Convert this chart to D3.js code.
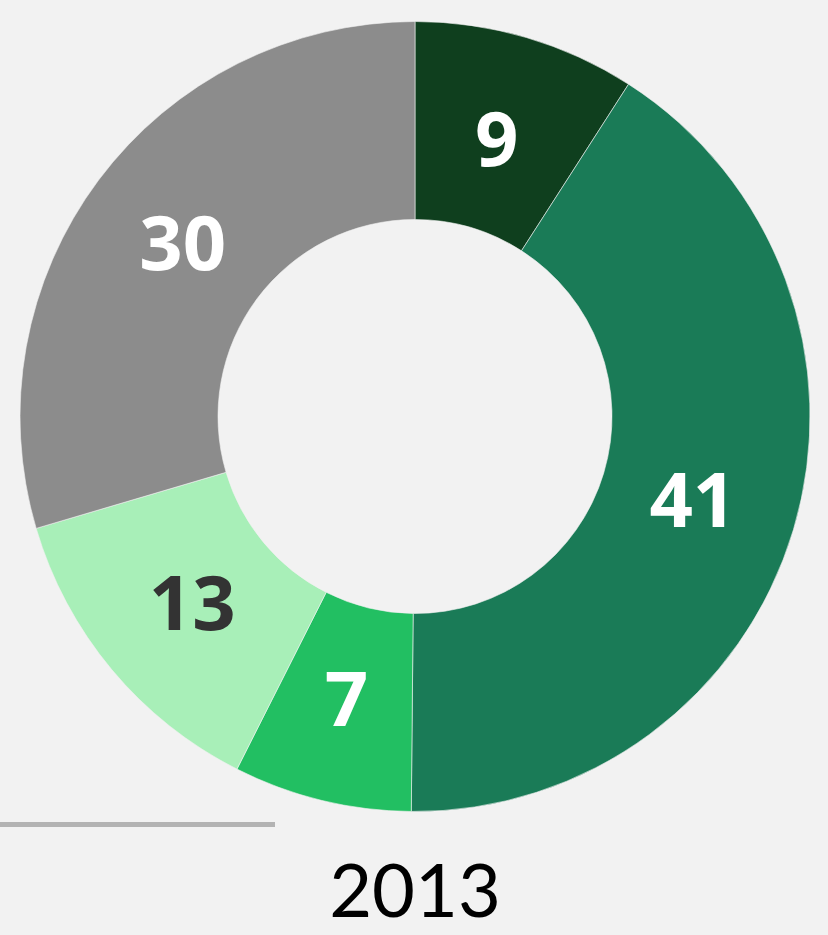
<!DOCTYPE html>
<html>
<head>
<meta charset="utf-8">
<script src="https://cdn.jsdelivr.net/npm/d3@7"></script>
<style>
  html, body { margin: 0; padding: 0; background: #f2f2f2; }
  svg { display: block; }
</style>
</head>
<body>
<div id="chart"></div>
<script>
// slice shares (%), clockwise from 12 o'clock
var values = [9.1, 41.1, 7.3, 13.0, 29.6];
var colors = ["#0f3f1e", "#1a7b57", "#22bf62", "#a8efb8", "#8c8c8c"];
var labelColors = ["#ffffff", "#ffffff", "#ffffff", "#333333", "#ffffff"];
var yearLabel = "2013";

var width = 828, height = 935;
var cx = 415, cy = 416.5;
var outerR = 395, innerR = 197;

var svg = d3.select("#chart")
  .append("svg")
  .attr("width", width)
  .attr("height", height);

svg.append("rect")
  .attr("width", width)
  .attr("height", height)
  .attr("fill", "#f2f2f2");

var pie = d3.pie().sort(null).value(d => d);
var arc = d3.arc().innerRadius(innerR).outerRadius(outerR);
// labels sit a little inside the mid radius
var labelArc = d3.arc().innerRadius(290).outerRadius(290);

var g = svg.append("g")
  .attr("transform", `translate(${cx}, ${cy})`);

var slices = g.selectAll("g.slice")
  .data(pie(values))
  .enter()
  .append("g")
  .attr("class", "slice");

slices.append("path")
  .attr("d", arc)
  .attr("fill", (d, i) => colors[i])
  .attr("stroke", "#f2f2f2")
  .attr("stroke-width", 0.6);

slices.append("text")
  .attr("transform", d => `translate(${labelArc.centroid(d)})`)
  .attr("text-anchor", "middle")
  .attr("dy", "0.36em")
  .attr("font-family", "'Noto Sans', sans-serif")
  .attr("font-weight", 700)
  .attr("font-size", 76)
  .attr("fill", (d, i) => labelColors[i])
  .text(d => Math.round(d.data));

// rule under the chart
svg.append("line")
  .attr("x1", 0)
  .attr("x2", 275)
  .attr("y1", 824.5)
  .attr("y2", 824.5)
  .attr("stroke", "#b3b3b3")
  .attr("stroke-width", 5);

svg.append("text")
  .attr("x", cx)
  .attr("y", 917)
  .attr("text-anchor", "middle")
  .attr("font-family", "Lato, 'Noto Sans', sans-serif")
  .attr("font-size", 74)
  .attr("fill", "#000")
  .text(yearLabel);
</script>
</body>
</html>
